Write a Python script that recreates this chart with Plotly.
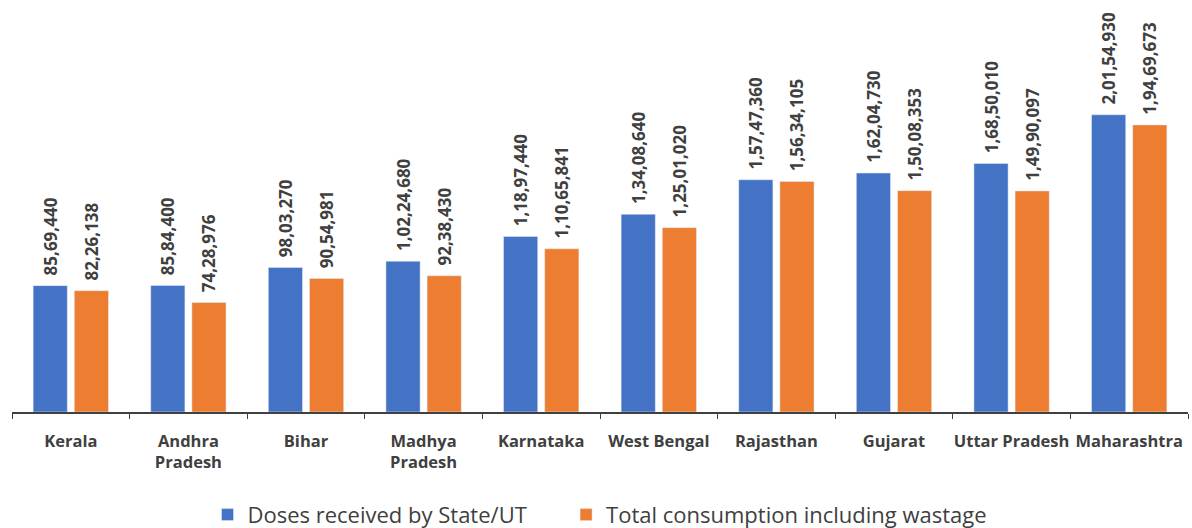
import plotly.graph_objects as go

states = ["Kerala", "Andhra<br>Pradesh", "Bihar", "Madhya<br>Pradesh", "Karnataka",
          "West Bengal", "Rajasthan", "Gujarat", "Uttar Pradesh", "Maharashtra"]
doses_received = [8569440, 8584400, 9803270, 10224680, 11897440,
                  13408640, 15747360, 16204730, 16850010, 20154930]
total_consumption = [8226138, 7428976, 9054981, 9238430, 11065841,
                     12501020, 15634105, 15008353, 14990097, 19469673]


def indian_fmt(n):
    s = str(int(n))
    if len(s) <= 3:
        return s
    last3 = s[-3:]
    rest = s[:-3]
    parts = []
    while len(rest) > 2:
        parts.insert(0, rest[-2:])
        rest = rest[:-2]
    if rest:
        parts.insert(0, rest)
    return ",".join(parts) + "," + last3


FONT = "Open Sans"
TXT = "#404040"
PAD = "\u00a0\u2009"
LEG_PAD = "\u00a0" * 6

fig = go.Figure()
fig.add_trace(go.Bar(
    x=states, y=doses_received, name="Doses received by State/UT" + LEG_PAD,
    marker_color="#4472C4",
    text=[PAD + indian_fmt(v) for v in doses_received],
    textposition="outside", textangle=-90,
    textfont=dict(family=FONT, size=17, color=TXT, weight="bold"),
    cliponaxis=False,
))
fig.add_trace(go.Bar(
    x=states, y=total_consumption, name="Total consumption including wastage",
    marker_color="#ED7D31",
    text=[PAD + indian_fmt(v) for v in total_consumption],
    textposition="outside", textangle=-90,
    textfont=dict(family=FONT, size=17, color=TXT, weight="bold"),
    cliponaxis=False,
))

fig.update_layout(
    width=1192, height=528,
    margin=dict(l=12, r=4, t=5, b=116),
    paper_bgcolor="white", plot_bgcolor="white",
    barmode="group", bargap=0.30, bargroupgap=0.17,
    font=dict(family=FONT, color=TXT),
    uniformtext=dict(minsize=8, mode="show"),
    legend=dict(orientation="h", x=0.5, xanchor="center",
                yref="container", y=0.025, yanchor="middle",
                font=dict(family=FONT, size=22, color=TXT),
                itemwidth=30, traceorder="normal"),
    showlegend=True,
)
fig.update_xaxes(
    showline=True, linecolor="#404040", linewidth=1.5,
    ticks="outside", tickson="boundaries", ticklen=5, tickcolor="#404040",
    tickfont=dict(family=FONT, size=16.5, color=TXT, weight="bold"),
    tickangle=0, showgrid=False, ticklabelstandoff=13,
)
fig.update_yaxes(visible=False, range=[0, 27600000], showgrid=False)

fig.write_html("out.html", config={"displayModeBar": False},
               post_script="document.body.style.margin='0';document.body.style.padding='0';")
